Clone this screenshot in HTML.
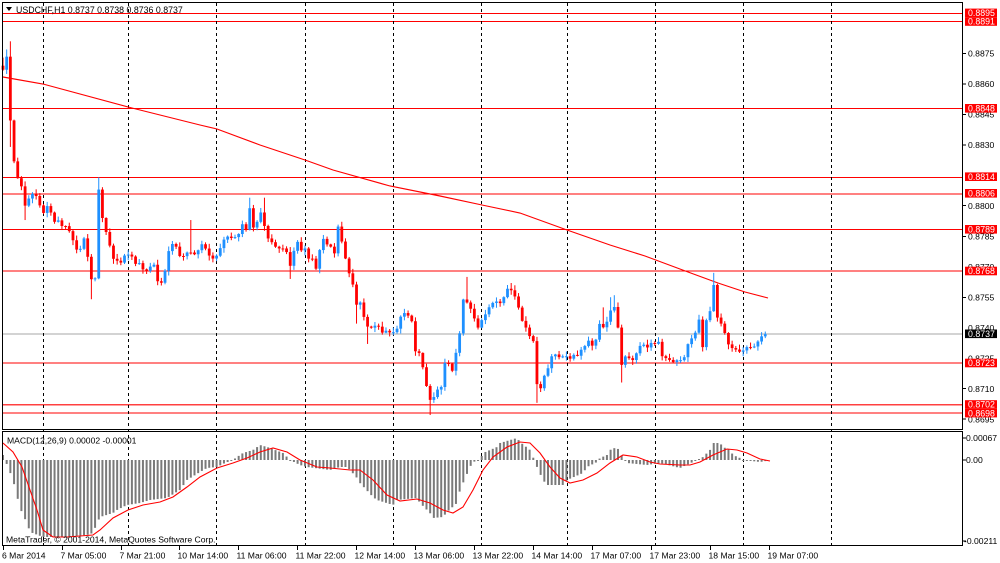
<!DOCTYPE html>
<html><head><meta charset="utf-8"><title>USDCHF,H1</title>
<style>
html,body{margin:0;padding:0;background:#fff;}
body{width:1000px;height:563px;overflow:hidden;}
svg{display:block;}
text{font-family:"Liberation Sans",sans-serif;}
</style></head>
<body>
<svg xmlns="http://www.w3.org/2000/svg" width="1000" height="563" viewBox="0 0 1000 563">
<rect x="0" y="0" width="1000" height="563" fill="#fff"/>

<!-- current price grey line -->
<rect x="3" y="333" width="959" height="2" fill="#d3d3d3"/>

<!-- horizontal level lines -->
<g fill="#ff0000" shape-rendering="crispEdges">
<rect x="3" y="13" width="959" height="1"/>
<rect x="3" y="21" width="959" height="1"/>
<rect x="3" y="108" width="959" height="1"/>
<rect x="3" y="177" width="959" height="1"/>
<rect x="3" y="193.5" width="959" height="1"/>
<rect x="3" y="229" width="959" height="1"/>
<rect x="3" y="270.5" width="959" height="1"/>
<rect x="3" y="362.5" width="959" height="1"/>
<rect x="3" y="404" width="959" height="1.5" fill="#ff4040"/>
<rect x="3" y="412.5" width="959" height="1"/>
</g>

<!-- period separators -->
<g stroke="#000" stroke-width="1" stroke-dasharray="3,3">
<line x1="43.5" y1="3" x2="43.5" y2="545"/>
<line x1="128.5" y1="3" x2="128.5" y2="545"/>
<line x1="216.5" y1="3" x2="216.5" y2="545"/>
<line x1="305.5" y1="3" x2="305.5" y2="545"/>
<line x1="393.5" y1="3" x2="393.5" y2="545"/>
<line x1="481.5" y1="3" x2="481.5" y2="545"/>
<line x1="567.5" y1="3" x2="567.5" y2="545"/>
<line x1="655.5" y1="3" x2="655.5" y2="545"/>
<line x1="743.5" y1="3" x2="743.5" y2="545"/>
<line x1="831.5" y1="3" x2="831.5" y2="545"/>
</g>

<!-- moving average -->
<polyline fill="none" stroke="#ff0000" stroke-width="1.15" points="3,77 43,84 128,107 200,125 217,129 260,145 305,160 333,170 390,186 440,196 482,205 520,213 567,230 610,245 645,256 688,272 718,283 745,292 768,298"/>

<g id="candles"></g>
<g id="hist"></g>

<!-- MACD signal -->
<polyline fill="none" stroke="#ff0000" stroke-width="1.1" points="3,443 13,452 22,467 30,490 37,510 43,530 53,537 67,537 93,535 100,530 113,518 128,510 143,505 160,502 173,497 187,487 200,477 217,468 233,463 247,458 260,452 273,448 287,452 300,460 317,467 330,468 350,470 360,470 373,480 387,495 400,501 417,499 430,503 443,510 453,513 463,507 473,490 483,470 493,457 507,447 520,442 530,443 540,453 550,467 560,478 570,483 583,480 597,473 610,463 623,455 637,457 650,462 660,464 680,465 690,465 700,462 713,455 727,449 737,450 747,453 760,459 770,461"/>

<!-- frames -->
<g fill="none" stroke="#000" stroke-width="1">
<rect x="2.5" y="2.5" width="960" height="427"/>
<rect x="2.5" y="431.5" width="960" height="114"/>
</g>

<!-- title -->
<polygon points="6,7 12,7 9,11" fill="#000"/>
<text x="16" y="13" font-size="8.8" fill="#000">USDCHF,H1  0.8737 0.8738 0.8736 0.8737</text>
<text x="7" y="443.3" font-size="8.6" fill="#000">MACD(12,26,9) 0.00002 -0.00001</text>
<text x="6" y="542.5" font-size="8.6" fill="#000">MetaTrader, © 2001-2014, MetaQuotes Software Corp.</text>

<!-- price axis ticks -->
<g stroke="#000" stroke-width="1">
<line x1="963" y1="53.5" x2="966" y2="53.5"/>
<line x1="963" y1="84" x2="966" y2="84"/>
<line x1="963" y1="114.5" x2="966" y2="114.5"/>
<line x1="963" y1="145" x2="966" y2="145"/>
<line x1="963" y1="205.5" x2="966" y2="205.5"/>
<line x1="963" y1="236.5" x2="966" y2="236.5"/>
<line x1="963" y1="297.5" x2="966" y2="297.5"/>
<line x1="963" y1="388.5" x2="966" y2="388.5"/>
<line x1="963" y1="419" x2="966" y2="419"/>
<line x1="963" y1="438" x2="966" y2="438"/>
<line x1="963" y1="460" x2="966" y2="460"/>
<line x1="963" y1="541" x2="966" y2="541"/>
</g>
<g font-size="8.6" fill="#000">
<text x="968" y="56.7">0.8875</text>
<text x="968" y="87.2">0.8860</text>
<text x="968" y="117.6">0.8845</text>
<text x="968" y="148.1">0.8830</text>
<text x="968" y="178.6">0.8815</text>
<text x="968" y="209">0.8800</text>
<text x="968" y="239.5">0.8785</text>
<text x="968" y="270">0.8770</text>
<text x="968" y="300.5">0.8755</text>
<text x="968" y="330.9">0.8740</text>
<text x="968" y="361.4">0.8725</text>
<text x="968" y="391.9">0.8710</text>
<text x="968" y="422.3">0.8695</text>
<text x="966" y="441.2">0.00067</text>
<text x="966" y="463.2">0.00</text>
<text x="964" y="544.2">-0.00211</text>
</g>

<!-- level labels -->
<g fill="#ff0000">
<rect x="965" y="8.6" width="32" height="8.6"/>
<rect x="965" y="17.2" width="32" height="8.6"/>
<rect x="965" y="104" width="32" height="8.6"/>
<rect x="965" y="172.4" width="32" height="8.6"/>
<rect x="965" y="189" width="32" height="8.6"/>
<rect x="965" y="225" width="32" height="8.6"/>
<rect x="965" y="266.7" width="32" height="8.6"/>
<rect x="965" y="358.7" width="32" height="8.6"/>
<rect x="965" y="400.2" width="32" height="8.6"/>
<rect x="965" y="408.8" width="32" height="8.6"/>
</g>
<rect x="965" y="329.5" width="32" height="8.6" fill="#000"/>
<g font-size="8.8" fill="#fff">
<text x="968" y="16.1">0.8895</text>
<text x="968" y="24.7">0.8891</text>
<text x="968" y="111.5">0.8848</text>
<text x="968" y="179.9">0.8814</text>
<text x="968" y="196.5">0.8806</text>
<text x="968" y="232.5">0.8789</text>
<text x="968" y="274.2">0.8768</text>
<text x="968" y="337">0.8737</text>
<text x="968" y="366.2">0.8723</text>
<text x="968" y="407.7">0.8702</text>
<text x="968" y="416.3">0.8698</text>
</g>

<!-- time axis -->
<g stroke="#000" stroke-width="1">
<line x1="3.5" y1="546" x2="3.5" y2="550"/>
<line x1="62.5" y1="546" x2="62.5" y2="550"/>
<line x1="121.5" y1="546" x2="121.5" y2="550"/>
<line x1="179.5" y1="546" x2="179.5" y2="550"/>
<line x1="238.5" y1="546" x2="238.5" y2="550"/>
<line x1="297.5" y1="546" x2="297.5" y2="550"/>
<line x1="356.5" y1="546" x2="356.5" y2="550"/>
<line x1="415.5" y1="546" x2="415.5" y2="550"/>
<line x1="474.5" y1="546" x2="474.5" y2="550"/>
<line x1="533.5" y1="546" x2="533.5" y2="550"/>
<line x1="592.5" y1="546" x2="592.5" y2="550"/>
<line x1="651.5" y1="546" x2="651.5" y2="550"/>
<line x1="710.5" y1="546" x2="710.5" y2="550"/>
<line x1="769.5" y1="546" x2="769.5" y2="550"/>
</g>
<g font-size="8.6" fill="#000">
<text x="2" y="558.3">6 Mar 2014</text>
<text x="60.5" y="558.3">7 Mar 05:00</text>
<text x="119.5" y="558.3">7 Mar 21:00</text>
<text x="177.5" y="558.3">10 Mar 14:00</text>
<text x="236.5" y="558.3">11 Mar 06:00</text>
<text x="295.5" y="558.3">11 Mar 22:00</text>
<text x="354.5" y="558.3">12 Mar 14:00</text>
<text x="413.5" y="558.3">13 Mar 06:00</text>
<text x="472.5" y="558.3">13 Mar 22:00</text>
<text x="531.5" y="558.3">14 Mar 14:00</text>
<text x="590.5" y="558.3">17 Mar 07:00</text>
<text x="649.5" y="558.3">17 Mar 23:00</text>
<text x="708.5" y="558.3">18 Mar 15:00</text>
<text x="767.5" y="558.3">19 Mar 07:00</text>
</g>
</svg>

<script>
(function(){
var K=[[3,8867],[7,8874],[11,8836],[14,8822],[18,8813],[22,8809],[25,8800],[28,8803],[32,8806],[36,8805],[40,8800],[43,8796],[47,8800],[50,8798],[54,8792],[58,8793],[62,8790],[66,8790],[70,8787],[73,8783],[77,8778],[81,8779],[84,8784],[87,8777],[92,8762],[96,8765],[99,8812],[103,8791],[107,8786],[110,8780],[114,8773],[117,8773],[121,8772],[125,8776],[129,8776],[132,8775],[136,8771],[139,8772],[145,8767],[150,8770],[154,8771],[157,8763],[162,8762],[167,8772],[170,8782],[176,8780],[180,8775],[183,8775],[187,8777],[191,8777],[195,8776],[198,8778],[203,8782],[208,8776],[213,8774],[218,8776],[223,8783],[228,8785],[232,8784],[237,8785],[240,8787],[243,8792],[247,8787],[250,8800],[253,8789],[257,8792],[261,8797],[265,8789],[268,8784],[272,8782],[275,8780],[279,8779],[283,8779],[287,8777],[290,8770],[294,8778],[297,8783],[301,8778],[305,8779],[308,8774],[313,8774],[316,8769],[319,8777],[323,8784],[327,8781],[330,8781],[334,8775],[338,8790],[342,8782],[345,8775],[349,8767],[353,8761],[357,8750],[361,8753],[364,8745],[368,8740],[372,8740],[375,8741],[378,8741],[383,8737],[387,8739],[391,8737],[394,8738],[398,8740],[402,8748],[405,8747],[408,8746],[412,8743],[416,8726],[420,8728],[423,8720],[427,8710],[431,8703],[435,8707],[438,8710],[442,8711],[445,8723],[448,8723],[452,8718],[455,8727],[458,8729],[463,8754],[468,8752],[471,8749],[474,8745],[478,8740],[482,8744],[486,8747],[489,8750],[492,8752],[496,8753],[500,8752],[503,8754],[507,8759],[510,8760],[513,8756],[516,8755],[519,8749],[523,8742],[526,8740],[529,8736],[533,8735],[537,8712],[541,8710],[544,8716],[548,8720],[553,8728],[557,8726],[561,8725],[565,8727],[569,8724],[572,8726],[575,8727],[578,8726],[582,8730],[585,8731],[588,8734],[592,8731],[597,8735],[600,8743],[603,8740],[607,8743],[610,8748],[614,8751],[618,8740],[622,8720],[626,8727],[629,8725],[633,8724],[637,8728],[640,8731],[643,8732],[647,8730],[652,8733],[655,8732],[658,8734],[662,8726],[666,8725],[670,8724],[673,8723],[677,8724],[681,8724],[684,8725],[688,8732],[692,8735],[695,8737],[699,8744],[702,8728],[707,8746],[710,8748],[714,8762],[718,8742],[722,8742],[725,8737],[728,8732],[732,8730],[737,8729],[740,8728],[744,8729],[748,8731],[752,8730],[755,8731],[759,8734],[762,8736],[766,8737]];
var W=[[3,'h',8873],[7,'h',8877],[11,'h',8881],[11,'l',8829],[25,'l',8793],[92,'l',8754],[99,'h',8814],[191,'h',8793],[250,'h',8804],[265,'h',8804],[290,'l',8764],[338,'h',8790],[357,'l',8742],[368,'l',8732],[431,'l',8697],[468,'h',8765],[510,'h',8762],[537,'l',8703],[603,'h',8750],[610,'h',8755],[614,'h',8756],[622,'l',8713],[714,'h',8767]];
var H=[[3,455],[10,472],[15,487],[18,500],[22,513],[27,523],[30,532],[43,537],[47,537],[67,537],[87,535],[93,533],[97,523],[100,517],[113,513],[117,510],[127,505],[140,503],[150,500],[167,498],[175,493],[180,490],[187,480],[200,472],[207,468],[217,467],[225,463],[233,460],[237,457],[243,453],[253,450],[260,445],[267,447],[270,448],[283,453],[290,460],[300,465],[307,467],[330,470],[340,467],[347,467],[350,470],[357,478],[360,483],[373,497],[377,500],[393,505],[397,500],[417,498],[420,503],[430,513],[433,518],[443,517],[447,512],[457,503],[460,490],[470,467],[473,462],[480,460],[483,453],[497,447],[500,443],[517,438],[520,442],[530,450],[533,457],[537,467],[543,480],[547,485],[563,485],[567,480],[583,473],[587,467],[597,462],[600,458],[607,455],[610,450],[617,447],[620,453],[627,463],[647,465],[660,463],[680,468],[693,462],[703,457],[707,453],[710,450],[713,443],[720,443],[723,447],[730,450],[733,455],[740,458],[743,460],[760,462],[766,461]];
function ip(a,x){if(x<=a[0][0])return a[0][1];for(var i=1;i<a.length;i++){if(x<=a[i][0]){var t=(x-a[i-1][0])/(a[i][0]-a[i-1][0]);return a[i-1][1]+t*(a[i][1]-a[i-1][1]);}}return a[a.length-1][1];}
function Y(p){return 21+(8891-p)*2.031;}
var N=208,dx=3.6825,x0=3,o=[],c=[],h=[],l=[],i,x;
for(i=0;i<N;i++){x=x0+i*dx;c[i]=ip(K,x);o[i]=i?c[i-1]:8869;
var r1=((i*7919+13)%97)/97,r2=((i*104729+7)%89)/89;
h[i]=Math.max(o[i],c[i])+0.3+r1*2.2;l[i]=Math.min(o[i],c[i])-0.3-r2*2.2;}
for(var j=0;j<W.length;j++){var k=Math.round((W[j][0]-x0)/dx);if(k<0)k=0;if(k>=N)k=N-1;
if(W[j][1]=='h')h[k]=Math.max(h[k],W[j][2]);else l[k]=Math.min(l[k],W[j][2]);}
var s='';
for(i=0;i<N;i++){x=x0+i*dx;var col=c[i]>o[i]?'#1e90ff':'#ff0000';
var yh=Y(h[i]),yl=Y(l[i]);
s+='<rect x="'+(x-0.5).toFixed(2)+'" y="'+yh.toFixed(2)+'" width="1" height="'+(yl-yh).toFixed(2)+'" fill="'+col+'"/>';
var yt=Y(Math.max(o[i],c[i])),yb=Y(Math.min(o[i],c[i]));var bh=Math.max(1,yb-yt);
s+='<rect x="'+(x-1.4).toFixed(2)+'" y="'+yt.toFixed(2)+'" width="2.8" height="'+bh.toFixed(2)+'" fill="'+col+'"/>';}
document.getElementById('candles').innerHTML=s;
var m='';
for(i=0;i<N;i++){x=x0+i*dx;var v=ip(H,x);var t=Math.min(v,460),hh=Math.max(1,Math.abs(v-460));
m+='<rect x="'+(x-1).toFixed(2)+'" y="'+t.toFixed(2)+'" width="2" height="'+hh.toFixed(2)+'" fill="#7a7a7a"/>';}
document.getElementById('hist').innerHTML=m;
})();
</script>
</body></html>
